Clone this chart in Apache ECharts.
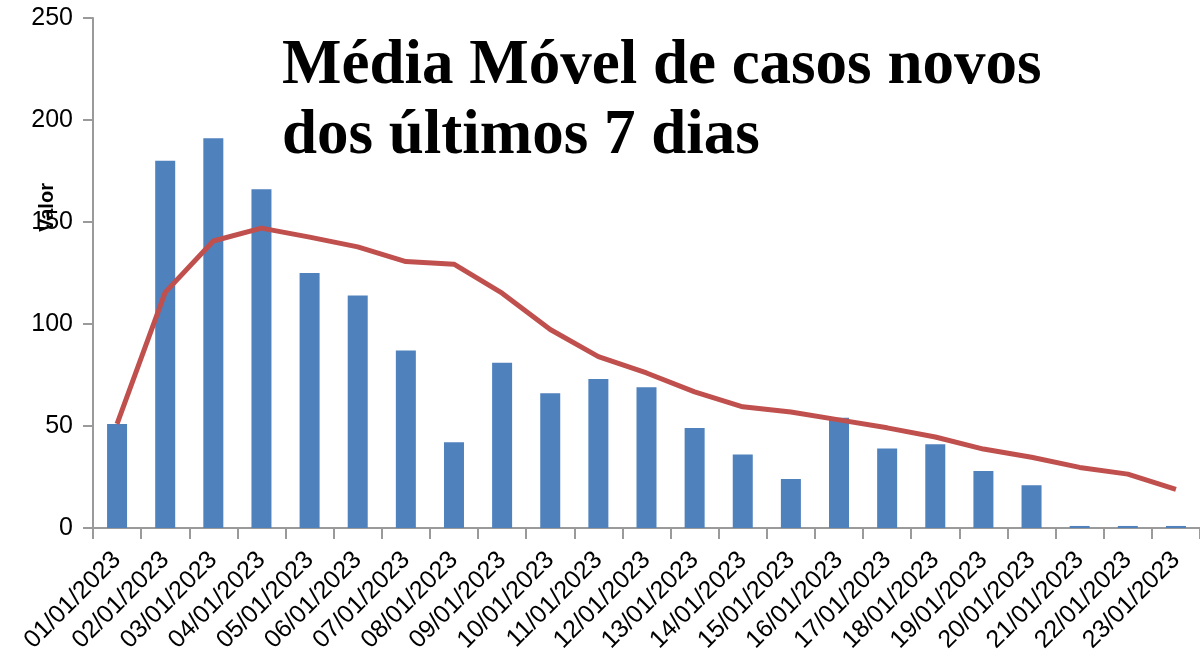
<!DOCTYPE html>
<html>
<head>
<meta charset="utf-8">
<script src="https://cdn.jsdelivr.net/npm/echarts@6/dist/echarts.min.js"></script>
<style>
  html, body { margin: 0; padding: 0; background: #fff; }
  #chart { width: 1200px; height: 669px; }
</style>
</head>
<body>
<div id="chart"></div>
<script>
// daily new cases and the 7-day moving average
const dates = [
  '01/01/2023', '02/01/2023', '03/01/2023', '04/01/2023', '05/01/2023', '06/01/2023',
  '07/01/2023', '08/01/2023', '09/01/2023', '10/01/2023', '11/01/2023', '12/01/2023',
  '13/01/2023', '14/01/2023', '15/01/2023', '16/01/2023', '17/01/2023', '18/01/2023',
  '19/01/2023', '20/01/2023', '21/01/2023', '22/01/2023', '23/01/2023'
];
const casosNovos = [51, 180, 191, 166, 125, 114, 87, 42, 81, 66, 73, 69, 49, 36, 24, 54, 39, 41, 28, 21, 1, 1, 1];
const mediaMovel = [51, 115.5, 140.7, 147, 142.6, 137.8, 130.6, 129.3, 115.1, 97.3, 84, 76, 66.7, 59.4, 56.9, 53, 49.1, 44.6, 38.7, 34.7, 29.7, 26.4, 18.9];
const yTicks = [0, 50, 100, 150, 200, 250];

const axisGray = '#9a9a9a';
const sans = 'Liberation Sans, Arial, sans-serif';

const chart = echarts.init(document.getElementById('chart'), null, { renderer: 'canvas' });

chart.setOption({
  animation: false,
  backgroundColor: '#ffffff',
  title: {
    text: 'Média Móvel de casos novos\ndos últimos 7 dias',
    left: 277,
    top: 27,
    textStyle: {
      fontFamily: 'Liberation Serif, Times New Roman, serif',
      fontSize: 63,
      fontWeight: 'bold',
      lineHeight: 70,
      color: '#000'
    }
  },
  graphic: [{
    type: 'text',
    x: 37,
    y: 232,
    rotation: Math.PI / 2,
    style: {
      text: 'Valor',
      font: 'bold 20px ' + sans,
      fill: '#000',
      textAlign: 'left',
      textVerticalAlign: 'top'
    }
  }],
  grid: { left: 93, top: 18, width: 1109, bottom: 141, containLabel: false },
  xAxis: {
    type: 'category',
    data: dates,
    boundaryGap: true,
    axisLine: { lineStyle: { color: axisGray, width: 2 } },
    axisTick: { show: true, length: 11, lineStyle: { color: axisGray, width: 2 } },
    axisLabel: {
      interval: 0,
      rotate: 45,
      margin: 28,
      color: '#000',
      fontFamily: sans,
      fontSize: 25
    },
    splitLine: { show: false }
  },
  yAxis: {
    type: 'value',
    min: yTicks[0],
    max: yTicks[yTicks.length - 1],
    interval: 50,
    axisLine: { show: true, lineStyle: { color: axisGray, width: 2 } },
    axisTick: { show: true, length: 10, lineStyle: { color: axisGray, width: 2 } },
    axisLabel: {
      margin: 20,
      color: '#000',
      fontFamily: sans,
      fontSize: 25
    },
    splitLine: { show: false }
  },
  series: [
    {
      name: 'Casos novos',
      type: 'bar',
      data: casosNovos,
      barWidth: 20,
      itemStyle: { color: '#4f81bd' }
    },
    {
      name: 'Média móvel 7 dias',
      type: 'line',
      data: mediaMovel,
      showSymbol: false,
      symbol: 'none',
      lineStyle: { color: '#c0504d', width: 5 },
      itemStyle: { color: '#c0504d' }
    }
  ]
});
</script>
</body>
</html>
